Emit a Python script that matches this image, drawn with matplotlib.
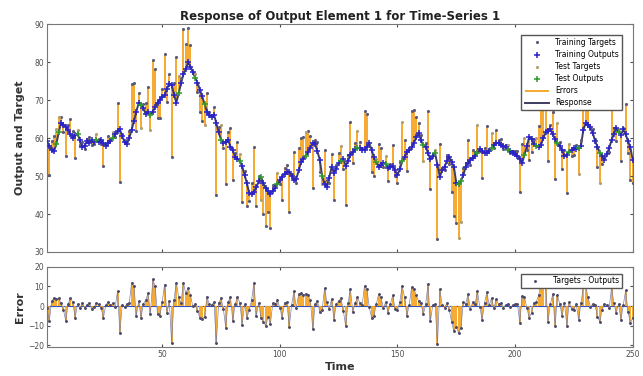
import matplotlib

matplotlib.use("Agg")
import matplotlib.pyplot as plt
import numpy as np

# network outputs, t = 1..250
outputs = [
    59.2, 58.0, 56.8, 56.5, 58.5, 61.5, 64.0, 63.5, 63.0, 62.2,
    61.0, 60.0, 60.8, 61.2, 59.5, 57.6, 58.0, 59.2, 58.8, 59.5,
    59.0, 59.6, 58.9, 59.4, 58.6, 58.0, 58.7, 59.3, 60.1, 61.0,
    61.8, 62.3, 60.5, 59.0, 58.4, 60.0, 62.2, 64.5, 67.0, 69.3,
    68.8, 67.9, 66.3, 66.8, 66.2, 67.0, 68.2, 69.4, 70.2, 70.9,
    71.3, 73.0, 74.4, 74.0, 71.5, 69.4, 71.8, 74.5, 76.8, 78.2,
    80.0, 78.9, 77.4, 76.0, 74.6, 72.8, 71.0, 69.0, 67.0, 66.0,
    65.6, 66.2, 64.0, 61.5, 59.6, 58.8, 59.0, 59.6, 57.8, 56.8,
    55.1, 54.6, 54.0, 52.6, 50.3, 48.1, 45.5, 45.2, 45.8, 47.0,
    48.6, 49.8, 48.1, 46.8, 46.0, 45.4, 46.1, 46.9, 47.9, 48.9,
    49.8, 50.6, 51.0, 51.2, 50.0, 48.9, 49.3, 51.5, 53.6, 54.6,
    55.4, 56.3, 57.5, 58.8, 58.4, 56.5, 54.2, 50.0, 47.8, 47.1,
    49.6, 52.4, 50.8, 52.0, 53.5, 54.0, 54.4, 52.7, 54.0, 55.6,
    56.4, 57.1, 57.3, 57.5, 57.0, 56.9, 57.8, 58.7, 57.0, 55.0,
    53.6, 52.4, 52.8, 53.5, 53.2, 52.1, 52.3, 52.6, 51.5, 50.3,
    51.8, 53.9, 55.0, 56.3, 56.8, 57.6, 58.7, 60.2, 61.4, 59.4,
    58.2, 57.8, 56.0, 54.4, 55.2, 56.0, 53.0, 49.8, 51.5, 52.4,
    54.0, 55.1, 53.8, 52.4, 48.2, 47.8, 48.8, 50.2, 52.5, 53.4,
    54.3, 54.8, 55.3, 56.0, 57.1, 56.6, 56.0, 56.2, 56.6, 57.4,
    58.3, 58.6, 58.8, 58.2, 57.9, 57.6, 57.0, 56.7, 56.2, 55.8,
    55.3, 54.5, 53.4, 55.6, 57.9, 60.3, 59.8, 58.4, 58.0, 57.8,
    58.2, 60.0, 61.5, 62.0, 62.4, 61.0, 59.7, 58.6, 57.9, 56.8,
    55.3, 55.6, 56.4, 56.8, 57.4, 57.2, 57.5, 58.0, 62.1, 64.0,
    63.6, 63.0, 61.4, 59.3, 57.8, 56.2, 55.2, 54.3, 55.8, 57.4,
    59.5, 61.2, 62.7, 61.5, 60.9, 62.3, 61.0, 59.2, 57.6, 54.3,
]

# targets - outputs
errors = [
    -1.0, -7.7, 2.5, 4.2, 3.8, 4.0, 1.5, -1.8, -7.6, 1.2,
    4.0, 2.0, -6.0, 1.0, -1.2, 1.5, -0.8, 0.6, 1.6, -1.4,
    -0.5, 1.4, 0.8, -1.0, -6.0, 0.5, 2.0, 0.3, 1.5, -0.6,
    7.5, -13.8, 0.5, -0.4, 1.0, 1.8, 12.0, 10.0, -5.0, 2.5,
    -6.0, 1.2, 3.0, 6.6, -4.0, 13.7, 10.0, -4.0, -5.0, 2.0,
    11.0, -3.5, 2.5, -19.0, 3.0, 12.0, 4.5, 1.5, 12.0, 6.6,
    9.0, 5.7, -0.2, 0.8, -2.5, -6.0, -6.4, -5.5, 4.8, 1.0,
    0.5, 2.0, -19.0, 1.5, 4.0, -1.5, -11.0, 2.0, 4.8, -7.7,
    1.0, 4.5, 1.8, -9.5, 1.0, -6.0, -2.0, 3.0, 12.0, -5.0,
    1.5, -6.0, -8.0, -10.0, -5.5, -9.0, 1.5, 0.8, 3.0, -1.0,
    -6.0, 1.5, 2.0, -10.7, 0.5, 7.5, -1.0, 6.0, 6.5, 5.8,
    6.2, 5.5, 3.0, -12.0, 1.0, 2.5, -3.0, -2.0, 9.0, 2.0,
    -1.5, 3.5, -7.0, 1.0, 2.5, 4.0, -2.5, -10.4, 1.5, 8.7,
    -3.0, 1.5, 4.5, 1.5, 0.5, 10.4, 8.7, -0.5, -6.0, -5.0,
    1.0, 6.0, 4.5, -1.0, 2.0, -3.5, 1.0, 5.5, -1.5, -2.0,
    2.0, 10.4, 4.5, -5.0, 0.5, 9.5, 8.7, 5.5, 2.5, 1.5,
    -4.3, 1.0, 11.3, -7.8, 0.5, 1.0, -19.5, 8.7, 0.5, -0.8,
    1.5, -2.0, -8.0, -13.0, -10.5, -14.0, -11.0, 2.0, 1.0, 6.0,
    -1.5, 2.0, 1.0, 7.5, -0.5, -7.0, 1.5, 7.0, 0.5, 4.0,
    -1.0, 3.5, 0.8, 1.5, -0.8, 0.5, 1.2, -0.5, 0.3, 0.8,
    1.2, -8.7, 5.0, 4.5, -1.0, -6.0, -3.5, 1.5, 2.0, 5.5,
    11.3, 12.0, 10.0, -8.0, 1.0, 6.0, -10.4, 5.5, 1.0, -5.0,
    1.5, -10.0, 2.0, -1.5, -1.8, 1.0, -7.0, 1.5, 9.5, 10.4,
    4.5, -0.5, 1.0, 0.5, -5.5, -8.0, -2.0, 1.0, 0.5, -1.0,
    9.5, 1.5, -3.5, 1.0, -7.0, 0.5, 8.0, -3.0, -8.7, -6.0,
]

# time steps that belong to the test split (green markers)
test_steps = [5, 6, 14, 22, 29, 41, 45, 57, 64, 68, 75, 83, 92, 99, 111,
              118, 126, 133, 141, 145, 152, 161, 166, 176, 177, 184, 190,
              197, 204, 209, 218, 223, 227, 236, 244]

t = np.arange(1, len(outputs) + 1)
out = np.array(outputs)
err = np.array(errors)
tgt = out + err
is_test = np.isin(t, test_steps)
is_train = ~is_test

ORANGE = "#f5a31f"
BLUE = "#2a23c8"
GREEN = "#2e9a2e"
GRID = "#4d4d4d"

plt.rcParams["font.family"] = "DejaVu Sans"
fig = plt.figure(figsize=(6.43, 3.76), dpi=100)
ax1 = fig.add_axes([0.073, 0.330, 0.911, 0.605])
ax2 = fig.add_axes([0.073, 0.077, 0.911, 0.213])

# --- top: response
h_err = ax1.vlines(t, out, tgt, color=ORANGE, lw=1.3, zorder=1)
h_resp, = ax1.plot(t, out, color="#3d3d60", lw=1.4, zorder=2)
h_trt, = ax1.plot(t[is_train], tgt[is_train], ".", color="#5a5a7a", ms=2.5, zorder=3)
h_tro, = ax1.plot(t[is_train], out[is_train], "+", color=BLUE, ms=4.5, mew=1.1, zorder=4)
h_tet, = ax1.plot(t[is_test], tgt[is_test], ".", color="#b0a070", ms=2.5, zorder=3)
h_teo, = ax1.plot(t[is_test], out[is_test], "+", color=GREEN, ms=4.5, mew=1.1, zorder=4)

ax1.set_xlim(1, 250)
ax1.set_ylim(30, 90)
ax1.set_xticks([50, 100, 150, 200, 250])
ax1.set_xticklabels([])
ax1.set_yticks(range(30, 91, 10))
ax1.set_ylabel("Output and Target", fontsize=8, fontweight="bold", color="#333333")
ax1.set_title("Response of Output Element 1 for Time-Series 1",
              fontsize=8.5, fontweight="bold", color="#222222", pad=3)
ax1.legend([h_trt, h_tro, h_tet, h_teo, h_err, h_resp],
           ["Training Targets", "Training Outputs", "Test Targets",
            "Test Outputs", "Errors", "Response"],
           loc="upper right", bbox_to_anchor=(0.988, 0.97),
           fontsize=5.5, frameon=True, fancybox=False,
           edgecolor="#555555", handlelength=3.2, borderpad=0.4,
           labelspacing=0.4, framealpha=1)

# --- bottom: error
ax2.axhline(0, color="#3050c0", lw=0.8, zorder=1)
ax2.vlines(t, 0, err, color=ORANGE, lw=1.3, zorder=2)
ax2.plot(t, err, color="#8080a0", lw=0.5, zorder=2)
h_e, = ax2.plot(t, err, ".", color="#4a4a6a", ms=2.2, zorder=3)
ax2.set_xlim(1, 250)
ax2.set_ylim(-21, 20)
ax2.set_xticks([50, 100, 150, 200, 250])
ax2.set_yticks([-20, -10, 0, 10, 20])
ax2.set_xlabel("Time", fontsize=8, fontweight="bold", color="#333333", labelpad=2)
ax2.set_ylabel("Error", fontsize=8, fontweight="bold", color="#333333")
ax2.legend([h_e], ["Targets - Outputs"], loc="upper right",
           bbox_to_anchor=(0.988, 0.96), fontsize=5.5,
           frameon=True, fancybox=False, edgecolor="#555555",
           handlelength=3.2, borderpad=0.3, framealpha=1)

for ax in (ax1, ax2):
    ax.tick_params(direction="in", length=2.5, labelsize=5.5,
                   colors=GRID, top=True, right=True, pad=2)
    for s in ax.spines.values():
        s.set_color("#777777")
        s.set_linewidth(0.8)
ax1.yaxis.set_label_coords(-0.038, 0.5)
ax2.yaxis.set_label_coords(-0.038, 0.5)

fig.savefig("out.png", dpi=100)
